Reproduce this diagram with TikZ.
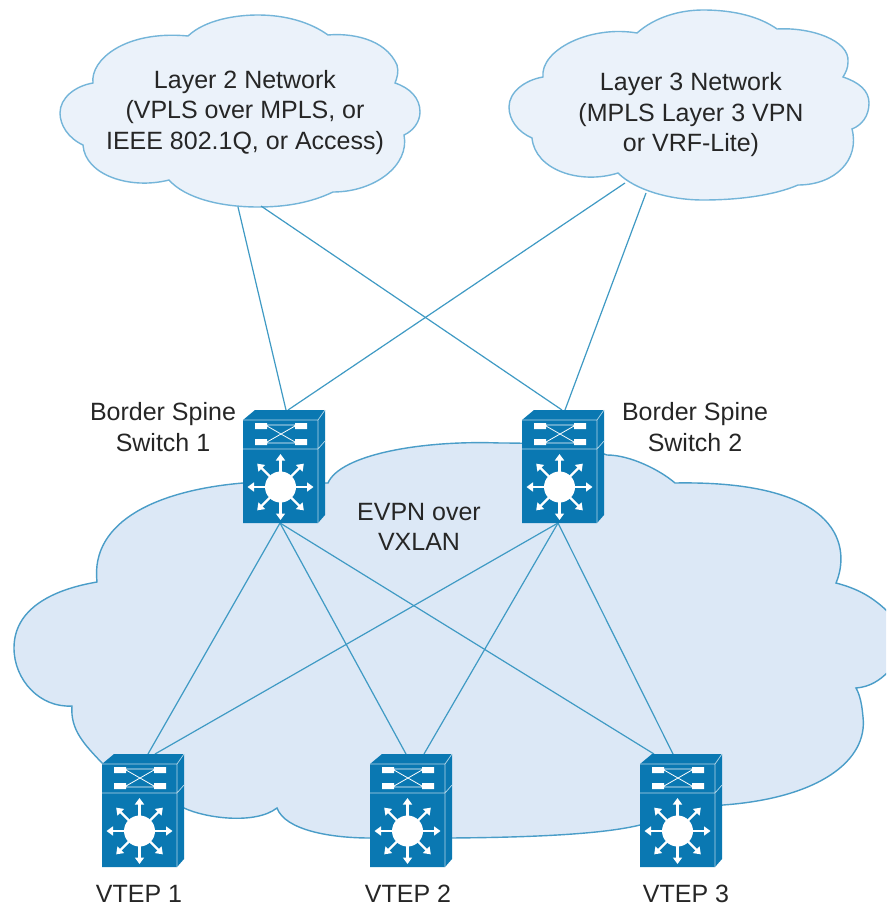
\documentclass[tikz,border=0pt]{standalone}
\usepackage{fontspec}
\setmainfont{Liberation Sans}
\usetikzlibrary{arrows.meta}
\definecolor{swblue}{HTML}{0A78B2}
\definecolor{linkblue}{HTML}{3F9AC4}
\definecolor{bigfill}{HTML}{DCE8F6}
\definecolor{smallfill}{HTML}{EBF2FA}
\definecolor{smalledge}{HTML}{74B5D9}
\definecolor{bigedge}{HTML}{4A9DC8}
\definecolor{txt}{HTML}{262626}
\tikzset{
  cloudsmall/.style={fill=smallfill,draw=smalledge,line width=1.4pt},
  cloudbig/.style={fill=bigfill,draw=bigedge,line width=1.4pt},
  link/.style={draw=linkblue,line width=1.2pt},
  label/.style={text=txt,align=center,inner sep=0pt,font=\fontsize{25}{30.5}\selectfont},
  swbody/.style={fill=swblue,draw=none},
  swedge/.style={draw=white!70!swblue,line width=0.7pt},
  swglyph/.style={draw=white,line width=0.8pt},
  swarrow/.style={draw=white,line width=2.2pt,-{Triangle[length=6.5pt,width=9pt,fill=white]}},
  swanchor/.style={rectangle,inner sep=0pt,minimum width=82pt,minimum height=113pt,draw=none}
}
% #1 node name, #2 x of front left, #3 y of switch top
\newcommand{\switchicon}[3]{%
  \begin{scope}[shift={(#2,#3)}]
    \fill[swbody] (0,113) -- (0,10) -- (12,0) -- (82,0) -- (82,105) -- (75,113) -- cycle;
    \draw[swedge] (0,10) -- (75,10) -- (82,0) (75,10) -- (75,113) (0,39) -- (75,39) -- (82,31);
    \fill[white] (12,13) rectangle (24,19) (52,13) rectangle (64,19)
                 (12,29) rectangle (24,35) (52,29) rectangle (64,35);
    \draw[swglyph] (24,16) -- (52,32) (24,32) -- (52,16)
                   (24,15) -- (52,15) (24,33) -- (52,33);
    \foreach \a in {0,45,...,315}
      \draw[swarrow] ([shift={(\a:15pt)}]37.5,77) -- ([shift={(\a:33pt)}]37.5,77);
    \fill[white] (37.5,77) circle[radius=15.5pt];
    \node[swanchor] (#1) at (41,56.5) {};
  \end{scope}}
\begin{document}
\begin{tikzpicture}[x=1pt,y=-1pt]
\useasboundingbox (0,0) rectangle (886,907);
\clip (0,0) rectangle (886,907);
\fill[white] (0,0) rectangle (886,907);

% Large cloud
\draw[cloudbig] (243,483)
  .. controls (160,490) and (90,520) .. (97,582)
  .. controls (50,590) and (14,610) .. (14,648)
  .. controls (14,680) and (40,708) .. (72,706)
  .. controls (70,730) and (85,745) .. (102,763)
  -- (184,808)
  .. controls (205,818) and (255,825) .. (277,808)
  .. controls (285,830) and (330,838) .. (370,838)
  .. controls (430,838) and (580,840) .. (640,825)
  -- (723,805)
  .. controls (820,798) and (868,760) .. (863,717)
  .. controls (862,705) and (860,695) .. (856,688)
  .. controls (870,687) and (880,680) .. (888,672)
  .. controls (900,655) and (900,625) .. (886,610)
  .. controls (870,595) and (855,588) .. (836,583)
  .. controls (850,550) and (845,480) .. (675,483)
  .. controls (660,470) and (630,455) .. (607,455)
  .. controls (580,445) and (540,443) .. (500,443)
  .. controls (420,440) and (340,455) .. (328,483)
  -- cycle;

% Layer 2 cloud
\draw[cloudsmall] (188,36)
  .. controls (205,20) and (235,15) .. (258,15)
  .. controls (285,15) and (310,22) .. (328,35)
  .. controls (350,33) and (385,38) .. (397,65)
  .. controls (399,72) and (397,78) .. (395,83)
  .. controls (410,88) and (420,98) .. (420,112)
  .. controls (420,122) and (413,131) .. (404,135)
  .. controls (410,165) and (375,192) .. (333,192)
  .. controls (310,203) and (285,207) .. (258,207)
  .. controls (220,207) and (185,198) .. (169,180)
  .. controls (130,190) and (85,175) .. (83,145)
  .. controls (68,138) and (60,125) .. (60,113)
  .. controls (60,98) and (75,86) .. (93,83)
  .. controls (90,60) and (125,30) .. (188,36) -- cycle;

% Layer 3 cloud
\draw[cloudsmall] (637,33)
  .. controls (655,17) and (680,10) .. (703,10)
  .. controls (735,10) and (760,17) .. (777,29)
  .. controls (810,27) and (850,40) .. (848,62)
  .. controls (848,68) and (846,72) .. (843,77)
  .. controls (858,82) and (869,90) .. (869,103)
  .. controls (869,116) and (862,125) .. (852,129)
  .. controls (860,160) and (835,185) .. (798,185)
  .. controls (775,195) and (740,200) .. (703,200)
  .. controls (670,200) and (635,190) .. (618,173)
  .. controls (580,185) and (535,170) .. (532,138)
  .. controls (518,132) and (509,120) .. (509,107)
  .. controls (509,92) and (525,80) .. (543,77)
  .. controls (540,50) and (590,25) .. (637,33) -- cycle;

% Link end points on the clouds
\coordinate (l2a) at (238,207);
\coordinate (l2b) at (261,206);
\coordinate (l3a) at (625,183);
\coordinate (l3b) at (646,193);

% Switch anchors for the links
\coordinate (s1top) at (286,410);
\coordinate (s1topb) at (288,410);
\coordinate (s2top) at (562,410);
\coordinate (s2topb) at (565,410);
\coordinate (s1bot) at (280,523);
\coordinate (s2bot) at (558,523);
\coordinate (v1a) at (148,754);
\coordinate (v1b) at (155,754);
\coordinate (v2a) at (406,754);
\coordinate (v2b) at (424,754);
\coordinate (v3a) at (654,754);
\coordinate (v3b) at (673,754);

\draw[link] (l2a) -- (s1top);
\draw[link] (l2b) -- (s2top);
\draw[link] (l3a) -- (s1topb);
\draw[link] (l3b) -- (s2topb);
\draw[link] (s1bot) -- (v1a);
\draw[link] (s1bot) -- (v2a);
\draw[link] (s1bot) -- (v3a);
\draw[link] (s2bot) -- (v1b);
\draw[link] (s2bot) -- (v2b);
\draw[link] (s2bot) -- (v3b);

% Switches
\switchicon{spineone}{243}{410}
\switchicon{spinetwo}{522}{410}
\switchicon{vtepone}{102}{754}
\switchicon{vteptwo}{370}{754}
\switchicon{vtepthree}{640}{754}

% Labels
\node[label] (l2text) at (245,112.5) {Layer 2 Network\\(VPLS over MPLS, or\\IEEE 802.1Q, or Access)};
\node[label] (l3text) at (691,115) {Layer 3 Network\\(MPLS Layer 3 VPN\\or VRF-Lite)};
\node[label] (b1text) at (163,427) {Border Spine\\Switch 1};
\node[label] (b2text) at (695,427) {Border Spine\\Switch 2};
\node[label] (evpntext) at (419,527) {EVPN over\\VXLAN};
\node[label] (v1text) at (139,894) {VTEP 1};
\node[label] (v2text) at (408,894) {VTEP 2};
\node[label] (v3text) at (686,894) {VTEP 3};
\end{tikzpicture}
\end{document}
